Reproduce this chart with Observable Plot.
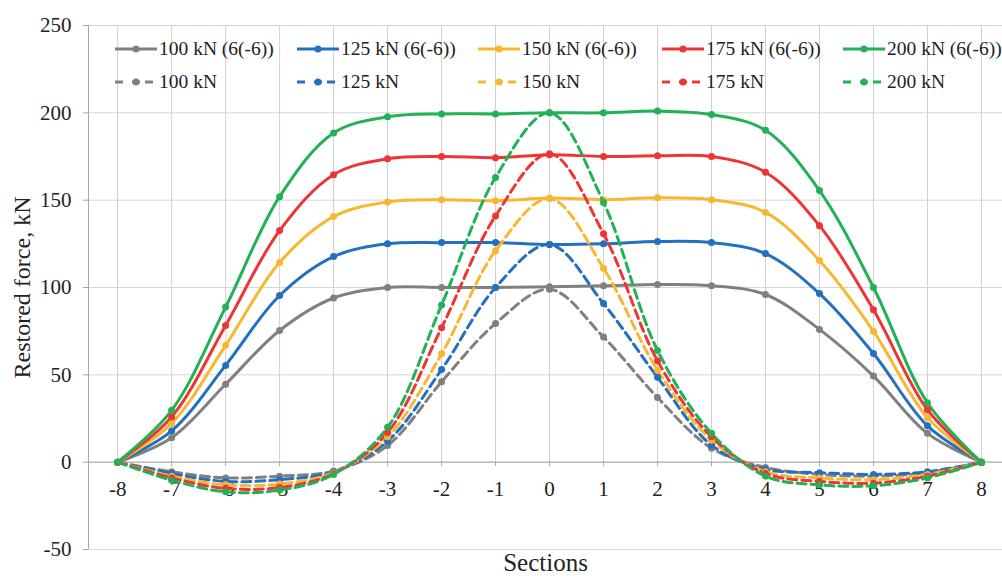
<!DOCTYPE html>
<html>
<head>
<meta charset="utf-8">
<script src="https://cdn.jsdelivr.net/npm/d3@7"></script>
<script src="https://cdn.jsdelivr.net/npm/@observablehq/plot@0.6"></script>
<style>
  html, body { margin: 0; padding: 0; background: #fff; }
  #wrap { position: relative; width: 1002px; height: 579px; font-family: "Times New Roman", "Liberation Serif", serif; }
  #wrap svg text { font-family: "Times New Roman", "Liberation Serif", serif; }
  #legend { position: absolute; left: 0; top: 0; width: 1002px; height: 100px; pointer-events: none; }
  .item { position: absolute; display: flex; align-items: center; height: 24px; font-size: 19.5px; color: #222; white-space: nowrap; font-family: "Times New Roman", "Liberation Serif", serif; }
  .item svg { margin-right: 2px; }
</style>
</head>
<body>
<div id="wrap"><div id="legend"></div></div>
<script>
// ---- data ----
const sections = [-8, -7, -6, -5, -4, -3, -2, -1, 0, 1, 2, 3, 4, 5, 6, 7, 8];
const loads = ["100 kN", "125 kN", "150 kN", "175 kN", "200 kN"];
const colors = ["#808080", "#2370c0", "#f7b731", "#ee3535", "#22b156"];
const yTicks = [-50, 0, 50, 100, 150, 200, 250];

const solid100 = [0, 14, 44.6, 75.4, 94, 100, 100, 100, 100.5, 101, 101.7, 101, 96, 76, 49.3, 16.5, 0];
const solid125 = [0, 17.9, 55.4, 95.4, 117.7, 125, 125.7, 125.7, 124.6, 125, 126.3, 125.7, 119.4, 96.5, 62.2, 20.8, 0];
const solid150 = [0, 22.2, 66.9, 114.3, 140.6, 149, 150.3, 149.7, 151.2, 150.3, 151.4, 150.3, 143, 115.4, 74.9, 25.5, 0];
const solid175 = [0, 25.9, 78.3, 132.6, 164.6, 173.7, 175, 174.3, 176, 175, 175.4, 175, 166, 135.4, 87.2, 30, 0];
const solid200 = [0, 29.7, 88.8, 152, 188.5, 197.7, 199.4, 199.4, 200, 200, 201, 199, 190, 155.5, 100, 34, 0];

const dash100 = [0, -5.5, -9, -8, -5, 9.5, 46, 79.4, 99, 71.6, 37, 8, -3, -7, -8, -6, 0];
const dash125 = [0, -6.5, -11, -10, -5.5, 12, 53, 100, 124.6, 90.8, 48.6, 9.7, -4, -6, -7, -5.5, 0];
const dash150 = [0, -8, -13, -12.5, -6, 14.5, 62, 121, 151, 111, 52.6, 12.6, -5.5, -9, -10, -7, 0];
const dash175 = [0, -9, -15, -14.5, -6.5, 17, 77, 141, 176.6, 130.8, 58, 14.5, -6.5, -11, -12, -8, 0];
const dash200 = [0, -10.3, -17, -16, -7, 20, 90, 163, 200, 148.7, 64, 16.5, -8, -13, -13.5, -9, 0];

const solidSeries = [solid100, solid125, solid150, solid175, solid200];
const dashSeries = [dash100, dash125, dash150, dash175, dash200];

// tidy tables
const solidRows = solidSeries.flatMap((vals, i) => vals.map((v, j) => ({section: sections[j], value: v, load: loads[i]})));
const dashRows = dashSeries.flatMap((vals, i) => vals.map((v, j) => ({section: sections[j], value: v, load: loads[i]})));

const xDomain = [-8.54, 8.39];
const font = '"Times New Roman", "Liberation Serif", serif';

const chart = Plot.plot({
  width: 1002,
  height: 579,
  marginLeft: 88,
  marginRight: 0,
  marginTop: 25,
  marginBottom: 30,
  style: {fontFamily: font, background: "#fff", color: "#222"},
  x: {domain: xDomain, axis: null},
  y: {domain: [-50, 250], axis: null},
  color: {domain: loads, range: colors},
  marks: [
    Plot.ruleY(yTicks, {stroke: "#d6d6d6", strokeWidth: 1}),
    Plot.ruleX(sections, {x: d => d, y1: 0, y2: 250, stroke: "#d0d0d0", strokeWidth: 1}),
    Plot.ruleX(sections, {x: d => d, y1: 0, y2: -2.6, stroke: "#a6a6a6", strokeWidth: 1}),
    Plot.ruleY([0], {stroke: "#a6a6a6", strokeWidth: 1}),
    Plot.ruleX([xDomain[0]], {y1: -50, y2: 250, stroke: "#a6a6a6", strokeWidth: 1}),
    Plot.axisY({ticks: yTicks, label: null, tickSize: 5, tickPadding: 12, fontSize: 21, stroke: "#a6a6a6", fill: "#222", tickFormat: d => String(d)}),
    Plot.text(sections, {x: d => d, y: 0, dy: 27, text: d => String(d), fontSize: 21, fill: "#222"}),
    Plot.text(["Restored force, kN"], {frameAnchor: "left", textAnchor: "middle", dx: -66, rotate: -90, fontSize: 24, fill: "#222"}),
    Plot.text(["Sections"], {frameAnchor: "bottom", dy: 21, fontSize: 25, fill: "#222"}),
    Plot.line(solidRows, {x: "section", y: "value", z: "load", stroke: "load", strokeWidth: 3, curve: "catmull-rom"}),
    Plot.dot(solidRows, {x: "section", y: "value", fill: "load", r: 3.5}),
    Plot.line(dashRows, {x: "section", y: "value", z: "load", stroke: "load", strokeWidth: 3, strokeDasharray: "9,5", curve: "catmull-rom"}),
    Plot.dot(dashRows, {x: "section", y: "value", fill: "load", r: 3.5})
  ]
});

const wrap = document.getElementById("wrap");
wrap.insertBefore(chart, wrap.firstChild);

// legend (HTML overlay inside plot area)
const legend = document.getElementById("legend");
const colX = [115, 297, 478, 662, 843];
const rowY = [37, 70];
function swatch(color, dashed) {
  const ns = "http://www.w3.org/2000/svg";
  const s = document.createElementNS(ns, "svg");
  s.setAttribute("width", 42); s.setAttribute("height", 12);
  if (dashed) {
    [[0, 12], [30, 42]].forEach(([a, b]) => {
      const l = document.createElementNS(ns, "line");
      l.setAttribute("x1", a); l.setAttribute("x2", b); l.setAttribute("y1", 6); l.setAttribute("y2", 6);
      l.setAttribute("stroke", color); l.setAttribute("stroke-width", 3);
      l.setAttribute("stroke-dasharray", "8,4");
      s.appendChild(l);
    });
    const l = document.createElementNS(ns, "line");
    l.setAttribute("x1", 17); l.setAttribute("x2", 25); l.setAttribute("y1", 6); l.setAttribute("y2", 6);
    l.setAttribute("stroke", color); l.setAttribute("stroke-width", 3);
    s.appendChild(l);
  } else {
    const l = document.createElementNS(ns, "line");
    l.setAttribute("x1", 0); l.setAttribute("x2", 42); l.setAttribute("y1", 6); l.setAttribute("y2", 6);
    l.setAttribute("stroke", color); l.setAttribute("stroke-width", 3);
    s.appendChild(l);
  }
  const c = document.createElementNS(ns, "circle");
  c.setAttribute("cx", 21); c.setAttribute("cy", 6); c.setAttribute("r", 3.5); c.setAttribute("fill", color);
  s.appendChild(c);
  return s;
}
loads.forEach((name, i) => {
  [false, true].forEach((dashed, r) => {
    const it = document.createElement("div");
    it.className = "item";
    it.style.left = colX[i] + "px";
    it.style.top = rowY[r] + "px";
    it.appendChild(swatch(colors[i], dashed));
    const t = document.createElement("span");
    t.textContent = dashed ? name : name + " (6(-6))";
    it.appendChild(t);
    legend.appendChild(it);
  });
});
</script>
</body>
</html>
